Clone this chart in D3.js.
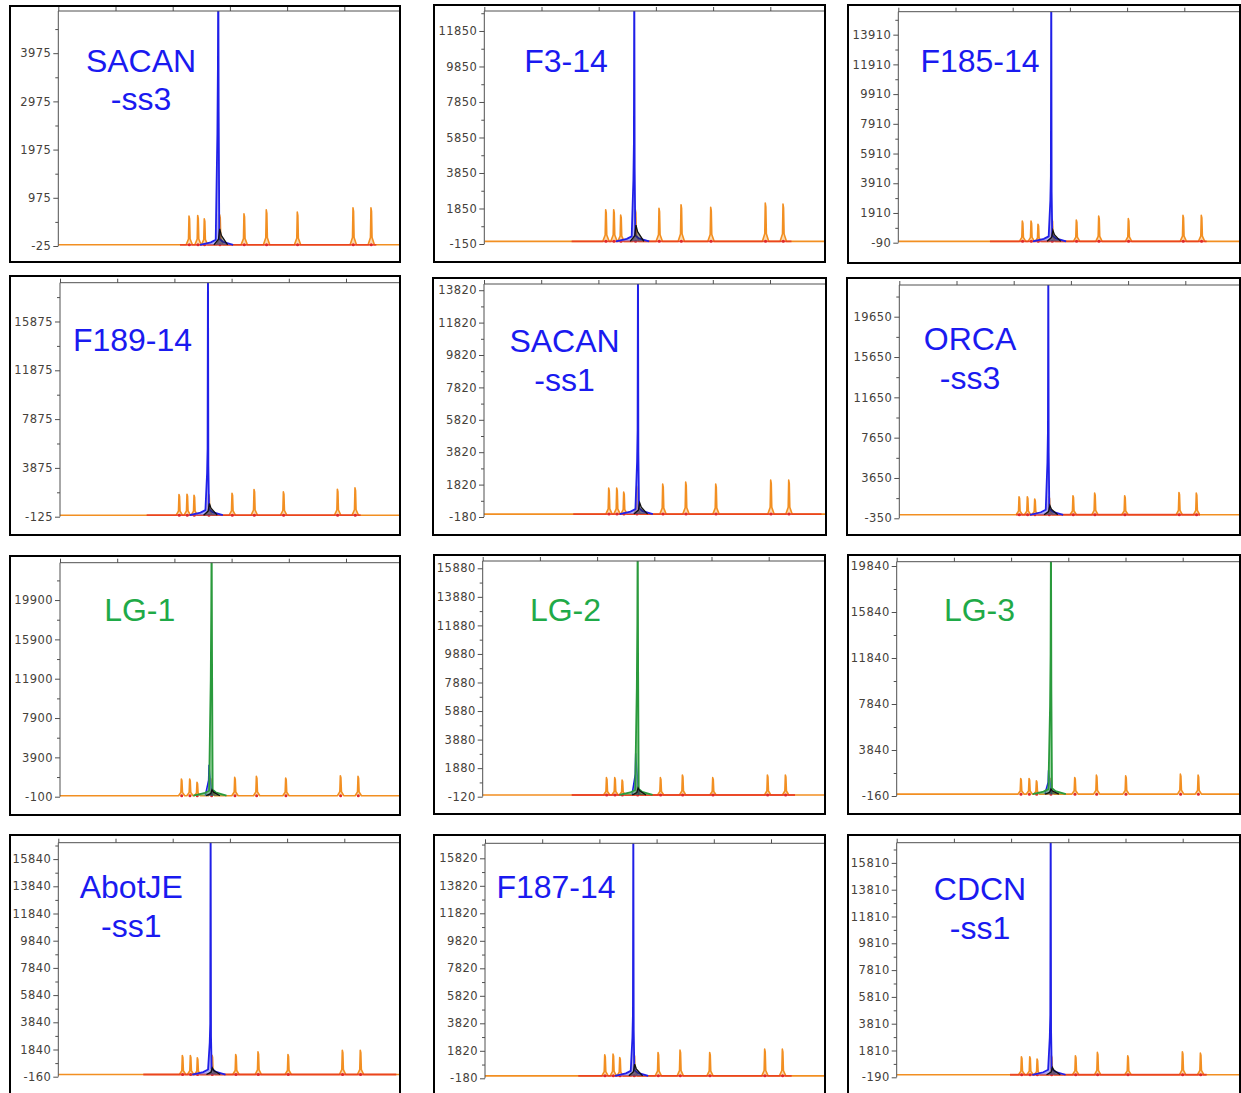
<!DOCTYPE html>
<html>
<head>
<meta charset="utf-8">
<script src="https://cdn.jsdelivr.net/npm/d3@7"></script>
<style>
  body { margin: 0; background: #fff; overflow: hidden; }
  svg { display: block; }
  .yaxis .tick text { font-family: "DejaVu Sans", sans-serif; font-size: 11.5px; fill: #45413a; letter-spacing: 0.45px; }
  .yaxis path, .yaxis line, .xaxis path, .xaxis line { stroke: #505050; }
  .title { font-family: "Liberation Sans", Arial, sans-serif; font-size: 32px; text-anchor: middle; }
</style>
</head>
<body>
<div id="container"></div>
<script>
(function(){
  "use strict";

  // sample names, one or two lines
  var sampleNames = [["SACAN", "-ss3"], ["F3-14"], ["F185-14"], ["F189-14"], ["SACAN", "-ss1"], ["ORCA", "-ss3"],
                     ["LG-1"], ["LG-2"], ["LG-3"], ["AbotJE", "-ss1"], ["F187-14"], ["CDCN", "-ss1"]];
  var mainDye = ["blue", "blue", "blue", "blue", "blue", "blue", "green", "green", "green", "blue", "blue", "blue"];

  // y tick labels (RFU) and top of each y range
  var yTickLabels = [
    [-25, 975, 1975, 2975, 3975],
    [-150, 1850, 3850, 5850, 7850, 9850, 11850],
    [-90, 1910, 3910, 5910, 7910, 9910, 11910, 13910],
    [-125, 3875, 7875, 11875, 15875],
    [-180, 1820, 3820, 5820, 7820, 9820, 11820, 13820],
    [-350, 3650, 7650, 11650, 15650, 19650],
    [-100, 3900, 7900, 11900, 15900, 19900],
    [-120, 1880, 3880, 5880, 7880, 9880, 11880, 13880, 15880],
    [-160, 3840, 7840, 11840, 15840, 19840],
    [-160, 1840, 3840, 5840, 7840, 9840, 11840, 13840, 15840],
    [-180, 1820, 3820, 5820, 7820, 9820, 11820, 13820, 15820],
    [-190, 1810, 3810, 5810, 7810, 9810, 11810, 13810, 15810]
  ];
  var yMax = [4850, 12975, 15455, 19055, 14203, 22795, 23700, 16391, 20214, 17046, 16911, 17317];
  var scanTicks = [0, 1000, 2000, 3000, 4000, 5000, 6000];

  // size standard (orange) peaks: scan position and height
  var ladderScan = [
    [2290, 2442, 2557, 2826, 3251, 3641, 4183, 5157, 5471],
    [2127, 2267, 2389, 2645, 3059, 3444, 3963, 4917, 5227],
    [2173, 2325, 2447, 2692, 3117, 3508, 4026, 4982, 5302],
    [2085, 2225, 2348, 2604, 3012, 3397, 3910, 4854, 5162],
    [2185, 2325, 2447, 2675, 3129, 3531, 4056, 5017, 5332],
    [2098, 2243, 2372, 2622, 3041, 3420, 3945, 4894, 5197],
    [2127, 2272, 2400, 2651, 3059, 3438, 3950, 4906, 5215],
    [2168, 2313, 2442, 2710, 3111, 3496, 4026, 4982, 5296],
    [2173, 2319, 2447, 2697, 3117, 3496, 4008, 4964, 5274],
    [2173, 2313, 2435, 2692, 3106, 3496, 4020, 4970, 5284],
    [2098, 2243, 2360, 2610, 3030, 3414, 3933, 4894, 5203],
    [2185, 2331, 2459, 2709, 3129, 3513, 4044, 4999, 5314]
  ];
  var ladderRfu = [
    [595, 608, 539, 622, 643, 726, 678, 768, 768],
    [1780, 1780, 1477, 1780, 1858, 2063, 1915, 2159, 2102],
    [1366, 1366, 1144, 1480, 1433, 1703, 1528, 1750, 1750],
    [1697, 1721, 1639, 1721, 1803, 2107, 1910, 2131, 2238],
    [1605, 1605, 1358, 1728, 1852, 1975, 1852, 2099, 2099],
    [1786, 1786, 1554, 1786, 1885, 2150, 1885, 2215, 2150],
    [1695, 1695, 1356, 1695, 1865, 1967, 1797, 2035, 1967],
    [1214, 1214, 1051, 1214, 1214, 1401, 1214, 1401, 1401],
    [1365, 1365, 1157, 1365, 1452, 1652, 1591, 1739, 1652],
    [1397, 1397, 1225, 1422, 1471, 1667, 1471, 1789, 1789],
    [1527, 1576, 1333, 1576, 1697, 1867, 1697, 1939, 1939],
    [1343, 1343, 1169, 1418, 1418, 1667, 1418, 1716, 1617]
  ];

  // main amplicon peak (blue or green), off scale at the top
  var mainScan = [2797, 2622, 2674, 2587, 2692, 2605, 2651, 2710, 2697, 2663, 2593, 2692];
  var mainShoulder = [2300, 3430, 2760, 3415, 3210, 5126, 11800, 7473, 7650, 2328, 2788, 2786];
  var mainRfu = [6000, 16000, 19000, 23000, 17000, 27000, 28000, 20000, 24000, 20000, 20000, 21000];
  // small blue peak beside the green one (LG panels only)
  var satScan = [null, null, null, null, null, null, 2610, 2680, 2660, null, null, null];
  var satRfu = [0, 0, 0, 0, 0, 0, 3150, 2919, 2087, 0, 0, 0];
  // black peak right after the main peak
  var blackScan = [2830, 2660, 2710, 2620, 2730, 2640, 2665, 2725, 2705, 2700, 2625, 2730];
  var blackRfu = [330, 910, 740, 956, 700, 926, 600, 500, 450, 490, 848, 547];
  // red trace along the baseline
  var redFrom = [2127, 1527, 1602, 1515, 1560, 2046, null, 1556, null, 1486, 1631, 1981];
  var redTo = [5560, 5370, 5390, 5256, 5900, 5256, null, 5460, null, 5909, 5361, 5419];

  // panel frames: border x, y, w, h, plot left, plot top, plot bottom
  var layout = [
    [10, 6, 390, 256, 58.3, 11, 246],
    [434, 5, 391, 257, 484.3, 11, 244],
    [848, 5, 392, 258, 898.3, 11.7, 242.7],
    [10, 276, 390, 259, 60, 282.7, 516.7],
    [433, 278, 393, 257, 484, 284, 517],
    [847, 278, 393, 257, 899.3, 285, 518.3],
    [10, 556, 390, 259, 60, 562.7, 796.7],
    [434, 555, 391, 259, 482.7, 561, 796.7],
    [848, 555, 392, 259, 896.7, 561.7, 796],
    [10, 835, 390, 270, 58.3, 842.7, 1076.7],
    [434, 835, 391, 270, 485, 843.3, 1078.3],
    [848, 835, 392, 270, 896.7, 842.7, 1077.3]
  ];
  var titlePos = [[141, 71.7], [566, 71.7], [980, 71.7], [132.5, 351], [564.5, 352], [970, 350],
                  [139.7, 621], [565.5, 621], [979.5, 621], [131.3, 898.3], [556, 898.3], [980, 900]];
  var titleColor = { blue: "#1a1af0", green: "#1faa48" };
  var pxPer1000 = 57.2;

  var svg = d3.select("#container").append("svg")
      .attr("width", 1241)
      .attr("height", 1093);

  var line = d3.line()
      .x(function(d) { return d.x; })
      .y(function(d) { return d.y; });

  sampleNames.forEach(function(name, i) {
    var L = layout[i];
    var bx = L[0], by = L[1], bw = L[2], bh = L[3];
    var left = L[4], top = L[5], bottom = L[6];
    var right = bx + bw - 1;

    var x = d3.scaleLinear().domain([0, 6000]).range([left, left + 6 * pxPer1000]);
    var y = d3.scaleLinear().domain([yTickLabels[i][0], yMax[i]]).range([bottom, top]);
    var P = function(s, v) { return { x: x(s), y: y(v) }; };

    var g = svg.append("g");
    g.append("defs").append("clipPath").attr("id", "clip" + i)
      .append("rect")
      .attr("x", left).attr("y", top)
      .attr("width", right - left).attr("height", bottom - top + 3);

    var plot = g.append("g").attr("clip-path", "url(#clip" + i + ")");

    // orange size standard trace
    var orange = [P(0, 0)];
    ladderScan[i].forEach(function(s, k) {
      var h = ladderRfu[i][k];
      orange.push(P(s - 55, 0), P(s - 14, h * 0.2), P(s - 5, h), P(s + 5, h * 0.9), P(s + 14, h * 0.2), P(s + 55, 0));
    });
    orange.push(P(6000, 0));
    plot.append("path").attr("d", line(orange))
      .attr("fill", "#f8c078").attr("fill-opacity", 0.6)
      .attr("stroke", "#f28f22").attr("stroke-width", 1.6).attr("stroke-linejoin", "round");

    // red trace
    if (redFrom[i] !== null) {
      plot.append("path").attr("d", line([P(redFrom[i], 0), P(redTo[i], 0)]))
        .attr("fill", "none").attr("stroke", "#e8321e").attr("stroke-width", 1.8).attr("opacity", 0.8);
    }
    ladderScan[i].forEach(function(s) {
      plot.append("circle").attr("cx", x(s)).attr("cy", y(0)).attr("r", 1.5).attr("fill", "#e02828");
    });

    // main peak
    var m = mainScan[i];
    var hump = y.invert(y(0) - 5);
    var mainPts = [P(m - 320, 0), P(m - 130, hump * 0.5), P(m - 45, hump), P(m - 16, mainShoulder[i]),
                   P(m - 7, mainShoulder[i] * 1.6), P(m, mainRfu[i]), P(m + 7, mainShoulder[i] * 1.2),
                   P(m + 18, hump * 1.2), P(m + 80, hump * 0.6), P(m + 260, 0)];
    var isGreen = mainDye[i] === "green";

    if (satScan[i] !== null) {
      var s0 = satScan[i];
      plot.append("path")
        .attr("d", line([P(s0 - 70, 0), P(s0 - 12, satRfu[i] * 0.5), P(s0 - 5, satRfu[i]), P(s0 + 8, satRfu[i] * 0.7), P(s0 + 50, 0)]))
        .attr("fill", "#5a5af0").attr("fill-opacity", 0.5).attr("stroke", "#1a1ae6").attr("stroke-width", 1.5);
    }

    plot.append("path").attr("d", line(mainPts))
      .attr("fill", isGreen ? "#5fb868" : "#7a7af0").attr("fill-opacity", 0.6)
      .attr("stroke", isGreen ? "#2a9a3c" : "#2020e8").attr("stroke-width", 1.8);

    // black peak
    var b = blackScan[i];
    plot.append("path")
      .attr("d", line([P(b - 110, 0), P(b - 30, blackRfu[i] * 0.35), P(b - 8, blackRfu[i]), P(b + 20, blackRfu[i] * 0.6), P(b + 130, 0)]))
      .attr("fill", "#222").attr("fill-opacity", 0.45).attr("stroke", "#111").attr("stroke-width", 1.3);

    // top scan axis
    var xAxis = d3.axisTop(x).tickValues(scanTicks.filter(function(t) { return x(t) <= right; }))
      .tickSize(4).tickFormat("");
    g.append("g").attr("class", "xaxis")
      .attr("transform", "translate(0," + top + ")")
      .call(xAxis)
      .select(".domain").attr("d", "M" + left + ",0H" + right);

    // left RFU axis with minor ticks
    var major = yTickLabels[i];
    var step = major[1] - major[0];
    var minor = major.map(function(v) { return v + step / 2; })
      .filter(function(v) { return v < yMax[i]; });
    g.append("g").attr("class", "yaxis minor")
      .attr("transform", "translate(" + left + ",0)")
      .call(d3.axisLeft(y).tickValues(minor).tickSize(3).tickFormat(""))
      .select(".domain").remove();
    g.append("g").attr("class", "yaxis")
      .attr("transform", "translate(" + left + ",0)")
      .call(d3.axisLeft(y).tickValues(major).tickSize(5).tickPadding(2)
        .tickFormat(function(d) { return String(d); }))
      .select(".domain").attr("d", "M0," + top + "V" + bottom);

    // frame
    g.append("rect")
      .attr("x", bx).attr("y", by).attr("width", bw).attr("height", bh)
      .attr("fill", "none").attr("stroke", "#000").attr("stroke-width", 2);

    // sample name
    var t = g.append("text").attr("class", "title")
      .attr("fill", titleColor[mainDye[i]]);
    name.forEach(function(part, k) {
      t.append("tspan").attr("x", titlePos[i][0]).attr("y", titlePos[i][1] + k * 38.5).text(part);
    });
  });
})();
</script>
</body>
</html>
